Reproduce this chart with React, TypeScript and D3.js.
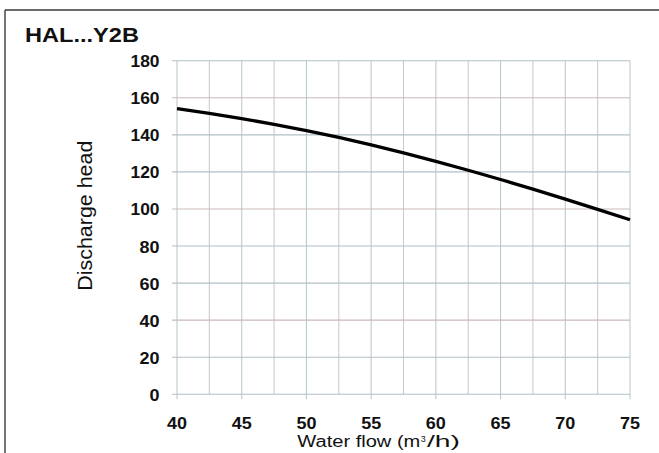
import React from "react";
import * as d3 from "d3";

// pump curve HAL...Y2B
const flow = [40, 42.5, 45, 47.5, 50, 52.5, 55, 57.5, 60, 62.5, 65, 67.5, 70, 72.5, 75];
const head = [154.2, 151.6, 148.8, 145.7, 142.3, 138.6, 134.6, 130.3, 125.7, 120.9, 115.9, 110.7, 105.3, 99.8, 94.2];
const xTicks = [40, 45, 50, 55, 60, 65, 70, 75];
const xMinor = [42.5, 47.5, 52.5, 57.5, 62.5, 67.5, 72.5];
const yTicks = [0, 20, 40, 60, 80, 100, 120, 140, 160, 180];

const W = 659;
const H = 453;
const margin = { left: 177, right: 29, top: 60.7, bottom: 58.7 };
const font = "'Liberation Sans', Arial, sans-serif";

const App: React.FC = () => {
	const x = d3
		.scaleLinear()
		.domain([40, 75])
		.range([margin.left, W - margin.right]);
	const y = d3
		.scaleLinear()
		.domain([0, 180])
		.range([H - margin.bottom, margin.top]);

	const line = d3
		.line<number>()
		.x((_, i) => x(flow[i]))
		.y((d) => y(d))
		.curve(d3.curveMonotoneX);

	const [x0, x1] = x.range();
	const [y0, y1] = y.range();

	return (
		<svg
			width={W}
			height={H}
			style={{ position: "absolute", left: 0, top: 0, background: "#fff" }}
			fontFamily={font}>
			{/* frame */}
			<line x1={5} x2={W} y1={10} y2={10} stroke="#3a3a3a" strokeWidth={1.4} />
			<line x1={5} x2={5} y1={10} y2={H} stroke="#3a3a3a" strokeWidth={1.4} />

			<text
				x={25}
				y={41.7}
				fontSize={21}
				fontWeight="bold"
				textLength={114}
				lengthAdjust="spacingAndGlyphs"
				fill="#111">
				HAL...Y2B
			</text>

			{/* grid */}
			{xMinor.map((t) => (
				<line key={"m" + t} x1={x(t)} x2={x(t)} y1={y1} y2={y0} stroke="#d3c8cb" strokeWidth={1.1} />
			))}
			{xTicks.map((t) => (
				<line key={"v" + t} x1={x(t)} x2={x(t)} y1={y1} y2={y0 + 5} stroke="#bccad2" strokeWidth={1.1} />
			))}
			{yTicks.map((t, i) => (
				<line
					key={"h" + t}
					x1={x0 - 5}
					x2={x1}
					y1={y(t)}
					y2={y(t)}
					stroke={i % 3 === 2 ? "#cbb9b9" : "#b1c0c6"}
					strokeWidth={1.1}
				/>
			))}

			{/* y labels */}
			{yTicks.map((t) => (
				<text
					key={"yl" + t}
					x={159.5}
					y={y(t) + 6.5}
					textAnchor="end"
					fontSize={16}
					fontWeight="bold"
					fill="#111"
					textLength={t >= 100 ? 29 : t >= 10 ? 20 : 10}
					lengthAdjust="spacingAndGlyphs">
					{t}
				</text>
			))}

			{/* x labels */}
			{xTicks.map((t) => (
				<text
					key={"xl" + t}
					x={x(t)}
					y={429.3}
					textAnchor="middle"
					fontSize={16}
					fontWeight="bold"
					fill="#111"
					textLength={20}
					lengthAdjust="spacingAndGlyphs">
					{t}
				</text>
			))}

			<path d={line(head) || ""} fill="none" stroke="#000" strokeWidth={3.3} />

			<text
				transform="translate(92, 215.7) rotate(-90)"
				textAnchor="middle"
				fontSize={20}
				fill="#111"
				textLength={150}
				lengthAdjust="spacingAndGlyphs">
				Discharge head
			</text>

			<text
				x={297.3}
				y={447.3}
				fontSize={16}
				fill="#111"
				textLength={123}
				lengthAdjust="spacingAndGlyphs">
				Water flow (m
			</text>
			<text x={420.8} y={442} fontSize={9} fill="#111">
				3
			</text>
			<text
				x={427}
				y={447.3}
				fontSize={16}
				fill="#111"
				textLength={33}
				lengthAdjust="spacingAndGlyphs">
				/h)
			</text>
		</svg>
	);
};

export default App;
